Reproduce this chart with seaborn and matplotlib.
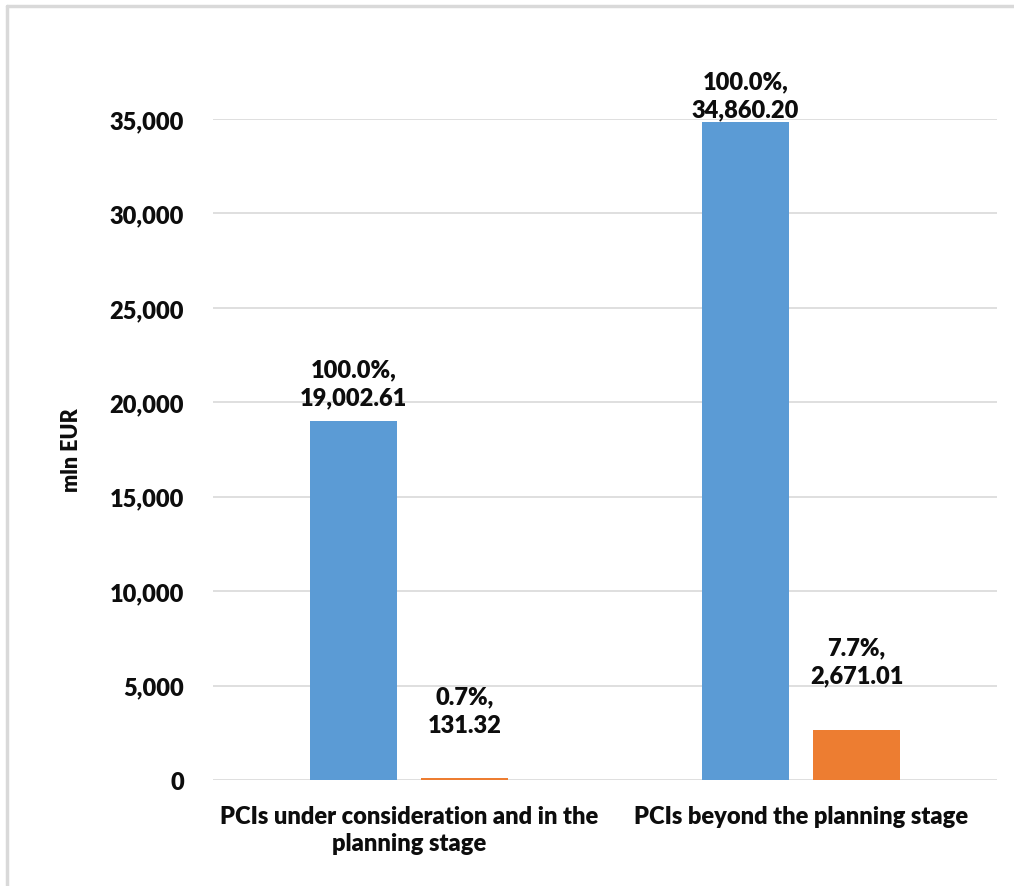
import matplotlib
matplotlib.use("Agg")
import matplotlib.pyplot as plt
import seaborn as sns
import pandas as pd
from matplotlib.ticker import FuncFormatter
from matplotlib.lines import Line2D

categories = ["PCIs under consideration and in the\nplanning stage",
              "PCIs beyond the planning stage"]
series_names = ["Total cost", "Cost of PCIs with CEF grants"]
total_values = [19002.61, 34860.20]
share_values = [131.32, 2671.01]
share_pct = [0.7, 7.7]
total_pct = [100.0, 100.0]
y_ticks = [0, 5000, 10000, 15000, 20000, 25000, 30000, 35000]

df = pd.DataFrame({
    "category": categories * 2,
    "series": [series_names[0]] * 2 + [series_names[1]] * 2,
    "value": total_values + share_values,
    "pct": total_pct + share_pct,
})

sns.set_theme(style="white")
plt.rcParams["font.family"] = ["Lato", "DejaVu Sans"]
plt.rcParams["font.weight"] = "bold"

fig = plt.figure(figsize=(10.14, 8.87), dpi=100)
ax = fig.add_axes([213/1014, 1-781/887, (997-213)/1014, (781-120)/887])

blue = "#5B9BD5"
orange = "#ED7D31"
sns.barplot(data=df, x="category", y="value", hue="series",
            palette=[blue, orange], width=0.566, gap=0.215,
            legend=False, ax=ax, saturation=1, linewidth=0, zorder=3)

FS = 17
TXT = "#0D0D0D"
ax.set_ylim(0, 35000)
ax.set_yticks(y_ticks)
ax.yaxis.set_major_formatter(FuncFormatter(lambda v, p: f"{v:,.0f}"))
ax.grid(axis="y", color="#D9D9D9", linewidth=1.2, zorder=0)
ax.grid(axis="x", visible=False)
for s in ax.spines.values():
    s.set_visible(False)
ax.tick_params(axis="y", length=0, pad=21, labelsize=FS)
ax.tick_params(axis="x", length=0, pad=18, labelsize=FS)
for lab in ax.get_xticklabels() + ax.get_yticklabels():
    lab.set_fontweight("heavy")
    lab.set_color(TXT)
for lab in ax.get_xticklabels():
    lab.set_linespacing(1.3)
ax.set_xlabel("")
ax.set_ylabel("mln EUR", fontsize=15.5, fontweight="heavy", color=TXT, labelpad=20)

# data labels: bottom offset in pixels above bar top
offsets = {0: [13, 1], 1: [42, 43]}
for si, cont in enumerate(ax.containers):
    for bi, bar in enumerate(cont):
        h = bar.get_height()
        pct = df[df["series"] == series_names[si]]["pct"].iloc[bi]
        ax.annotate(f"{pct:.1f}%,\n{h:,.2f}",
                    xy=(bar.get_x() + bar.get_width()/2, h),
                    xytext=(0, offsets[si][bi]), textcoords="offset pixels",
                    ha="center", va="bottom", fontsize=FS, fontweight="heavy",
                    color=TXT, linespacing=1.35, annotation_clip=False)

# outer frame (top and left edges visible)
fig.add_artist(Line2D([7/1014, 1], [1-7/887, 1-7/887], color="#D9D9D9", linewidth=2.5, transform=fig.transFigure))
fig.add_artist(Line2D([7/1014, 7/1014], [0, 1-7/887], color="#D9D9D9", linewidth=2.5, transform=fig.transFigure))

fig.savefig("out.png", dpi=100)
